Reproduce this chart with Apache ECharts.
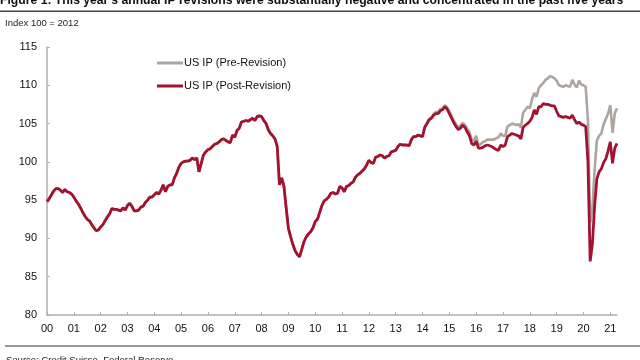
<!DOCTYPE html>
<html>
<head>
<meta charset="utf-8">
<script src="https://cdn.jsdelivr.net/npm/echarts@6/dist/echarts.min.js"></script>
<style>
html,body{margin:0;padding:0;background:#fff;}
#chart{width:640px;height:360px;}
</style>
</head>
<body>
<div id="chart"></div>
<script>
// Years shown on the x axis (two-digit tick labels)
const yearLabels = ['00','01','02','03','04','05','06','07','08','09','10','11','12','13','14','15','16','17','18','19','20','21'];
const yTicks = [80, 85, 90, 95, 100, 105, 110, 115];

// Monthly index (2012 = 100), Jan 2000 - Dec 2013: both vintages coincide
const commonIndex = [
  94.8, 95.2, 95.7, 96.2, 96.5, 96.5, 96.3, 96.0, 96.4, 96.1, 96.0, 95.8,
  95.4, 94.9, 94.5, 94.0, 93.4, 92.9, 92.5, 92.3, 91.8, 91.4, 91.0, 91.1,
  91.5, 91.8, 92.3, 92.8, 93.2, 93.9, 93.8, 93.8, 93.7, 93.6, 94.0, 93.7,
  94.3, 94.6, 94.2, 93.6, 93.6, 93.7, 94.1, 94.2, 94.7, 95.0, 95.4, 95.4,
  95.7, 96.0, 95.8, 96.3, 97.0, 96.1, 96.8, 97.0, 97.0, 97.9, 98.5, 99.3,
  99.8, 100.0, 100.1, 100.1, 100.2, 100.5, 100.3, 100.5, 98.7, 99.8, 100.9, 101.3,
  101.6, 101.7, 102.0, 102.3, 102.4, 102.6, 102.9, 103.0, 102.8, 102.6, 102.5, 103.5,
  103.2, 104.1, 104.4, 105.2, 105.3, 105.4, 105.3, 105.5, 105.7, 105.4, 105.9, 106.0,
  105.9, 105.4, 105.0, 104.2, 103.7, 103.4, 103.0, 102.0, 97.0, 97.9, 96.8, 94.0,
  91.3, 90.2, 89.2, 88.4, 87.9, 87.6, 88.6, 89.6, 90.2, 90.6, 90.9, 91.4,
  92.2, 92.5, 93.4, 94.3, 94.9, 95.1, 95.4, 95.9, 96.0, 95.8, 95.9, 96.8,
  96.6, 96.1, 96.8, 96.9, 97.2, 97.4, 98.0, 98.3, 98.5, 98.8, 99.1, 99.6,
  100.2, 99.9, 99.8, 100.6, 100.7, 100.9, 100.8, 100.5, 100.7, 100.8, 101.3, 101.4,
  101.5, 102.0, 102.3, 102.2, 102.2, 102.2, 102.1, 102.9, 103.3, 103.3, 103.5, 103.4
];

// Jan 2014 - Apr 2021, post-revision
const postTail = [
  103.3, 104.5, 105.0, 105.5, 105.7, 106.1, 106.3, 106.3, 106.7, 106.8, 107.2, 106.9,
  106.3, 105.7, 105.1, 104.6, 104.2, 104.4, 104.8, 104.5, 103.9, 103.4, 102.4, 102.2,
  102.7, 101.8, 101.8, 101.9, 102.1, 102.2, 102.1, 102.0, 101.8, 101.6, 101.5, 102.2,
  102.0, 102.2, 103.3, 103.5, 103.7, 103.6, 103.5, 103.4, 103.0, 104.5, 104.8, 105.0,
  105.3, 105.8, 106.8, 106.2, 107.2, 107.2, 107.6, 107.5, 107.5, 107.4, 107.3, 107.3,
  106.6, 106.0, 105.9, 105.8, 105.9, 105.8, 105.7, 106.1, 105.5, 105.0, 105.2, 104.9,
  104.8, 104.6, 100.0, 87.0, 89.3, 94.3, 97.8, 98.7, 99.1, 99.9, 100.4, 101.4,
  102.6, 99.8, 101.8, 102.4
];

// Jan 2014 - Apr 2021, pre-revision
const preTail = [
  103.4, 104.6, 105.1, 105.6, 105.8, 106.3, 106.5, 106.5, 106.9, 107.0, 107.4, 107.1,
  106.6, 106.0, 105.4, 104.9, 104.5, 104.8, 105.1, 104.8, 104.3, 103.9, 102.9, 102.8,
  103.4, 102.2, 102.3, 102.6, 102.7, 102.9, 102.9, 102.9, 102.9, 103.1, 103.2, 103.7,
  103.4, 103.4, 104.6, 104.8, 105.0, 104.9, 104.8, 104.9, 104.5, 106.4, 106.8, 107.2,
  107.0, 108.2, 109.0, 108.5, 109.6, 110.0, 110.3, 110.7, 110.9, 111.2, 111.1, 110.9,
  110.6, 110.0, 109.9, 109.8, 110.0, 109.9, 109.8, 110.7, 110.1, 109.7, 110.6, 110.1,
  110.0, 109.8, 105.4, 92.0, 94.0, 99.0, 102.8, 103.4, 103.7, 104.9, 105.6, 106.3,
  107.4, 103.8, 106.3, 107.0
];

const postRevision = commonIndex.concat(postTail);
const preRevision = commonIndex.concat(preTail);

const months = [];
for (let i = 0; i < postRevision.length; i++) {
  const y = 2000 + Math.floor(i / 12);
  const m = (i % 12) + 1;
  months.push(y + '-' + (m < 10 ? '0' + m : m));
}

const FONT = '"Liberation Sans", Arial, sans-serif';
const chart = echarts.init(document.getElementById('chart'), null, {renderer: 'canvas'});
chart.setOption({
  animation: false,
  backgroundColor: '#ffffff',
  grid: {left: 47, right: 23, top: 47, bottom: 45, containLabel: false},
  graphic: [
    {type: 'text', left: 0, top: -5, style: {text: "Figure 1: This year's annual IP revisions were substantially negative and concentrated in the past five years", font: 'bold 12.2px ' + FONT, fill: '#111'}},
    {type: 'rect', shape: {x: 0, y: 10.5, width: 640, height: 1.5}, style: {fill: '#444'}},
    {type: 'text', left: 5, top: 18, style: {text: 'Index 100 = 2012', font: '9.5px ' + FONT, fill: '#222'}},
    {type: 'rect', shape: {x: 5, y: 345, width: 635, height: 2}, style: {fill: '#999'}},
    {type: 'text', left: 6, top: 355, style: {text: 'Source: Credit Suisse, Federal Reserve', font: '9.5px ' + FONT, fill: '#222'}}
  ],
  legend: {
    orient: 'vertical',
    left: 157,
    top: 56,
    padding: 0,
    itemWidth: 26,
    itemHeight: 3,
    itemGap: 9,
    icon: 'rect',
    textStyle: {fontFamily: FONT, fontSize: 11, color: '#111', lineHeight: 14, padding: [0, 0, 0, -4]},
    data: ['US IP (Pre-Revision)', 'US IP (Post-Revision)']
  },
  xAxis: {
    type: 'category',
    data: months,
    boundaryGap: false,
    axisLine: {lineStyle: {color: '#AFAFAF', width: 1.5}},
    axisTick: {inside: true, length: 3, lineStyle: {color: '#AFAFAF'}, interval: function (i) { return i % 12 === 0; }},
    axisLabel: {
      interval: function (i) { return i % 12 === 0; },
      formatter: function (v, i) { return yearLabels[Math.floor(i / 12)]; },
      fontFamily: FONT, fontSize: 11, color: '#111', margin: 8
    },
    splitLine: {show: false}
  },
  yAxis: {
    type: 'value',
    min: yTicks[0],
    max: yTicks[yTicks.length - 1],
    interval: 5,
    axisLine: {show: true, lineStyle: {color: '#AFAFAF', width: 1.5}},
    axisTick: {show: true, inside: true, length: 3, lineStyle: {color: '#AFAFAF'}},
    axisLabel: {fontFamily: FONT, fontSize: 11, color: '#111', margin: 10},
    splitLine: {show: false}
  },
  series: [
    {
      name: 'US IP (Pre-Revision)', type: 'line', data: preRevision, symbol: 'none',
      lineStyle: {color: '#ADA59E', width: 2.6}, itemStyle: {color: '#ADA59E'}, z: 2
    },
    {
      name: 'US IP (Post-Revision)', type: 'line', data: postRevision, symbol: 'none',
      lineStyle: {color: '#A3122F', width: 2.8}, itemStyle: {color: '#A3122F'}, z: 3
    }
  ]
});
</script>
</body>
</html>
